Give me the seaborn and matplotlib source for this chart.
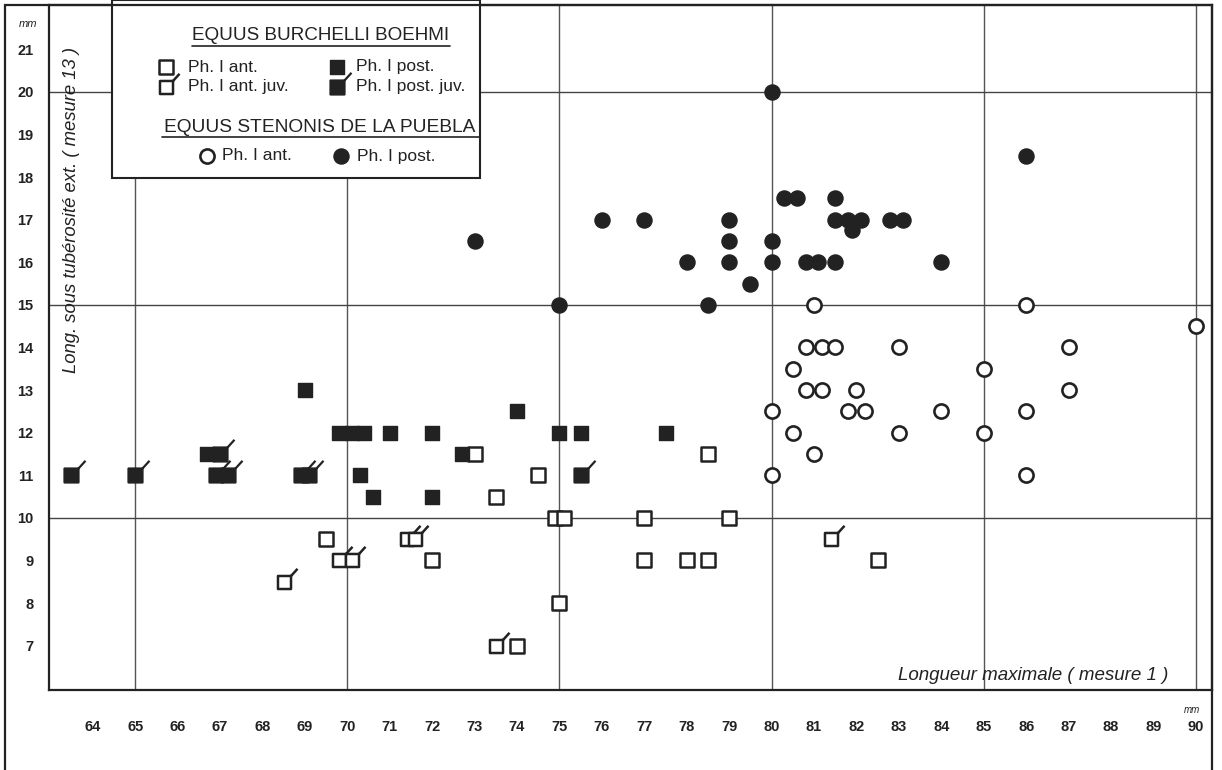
import matplotlib
matplotlib.use('Agg')
import matplotlib.pyplot as plt
from matplotlib.path import Path
from matplotlib.markers import MarkerStyle
from matplotlib.patches import Rectangle
import seaborn as sns

# Equus burchelli boehmi - Ph. I ant.
ant_x = [69.5, 72, 73, 74.5, 73.5, 74.9, 75.1, 77, 79, 77, 78, 78.5, 78.5, 75, 74, 82.5]
ant_y = [9.5, 9, 11.5, 11, 10.5, 10, 10, 10, 10, 9, 9, 9, 11.5, 8, 7, 9]
# Ph. I ant. juv.
ant_juv_x = [68.5, 69.8, 70.1, 71.4, 71.6, 73.5, 81.4]
ant_juv_y = [8.5, 9, 9, 9.5, 9.5, 7, 9.5]
# Ph. I post.
post_x = [66.7, 69, 69.8, 70.1, 70.4, 71, 70.3, 70.6, 72, 72, 72.7, 74, 75, 75.5, 77.5]
post_y = [11.5, 13, 12, 12, 12, 12, 11, 10.5, 12, 10.5, 11.5, 12.5, 12, 12, 12]
# Ph. I post. juv.
post_juv_x = [63.5, 65, 67, 66.9, 67.2, 68.9, 69.1, 75.5]
post_juv_y = [11, 11, 11.5, 11, 11, 11, 11, 11]

# Equus stenonis de la Puebla
sten_ant_x = [81, 86, 90, 80.8, 81.2, 81.5, 83, 87, 80.5, 85, 80.8, 81.2, 82, 87,
              80, 81.8, 82.2, 84, 86, 80.5, 83, 85, 81, 80, 86]
sten_ant_y = [15, 15, 14.5, 14, 14, 14, 14, 14, 13.5, 13.5, 13, 13, 13, 13,
              12.5, 12.5, 12.5, 12.5, 12.5, 12, 12, 12, 11.5, 11, 11]
sten_post_x = [73, 75, 76, 77, 78, 78.5, 79, 79, 79, 79.5, 80, 80, 80, 80.3, 80.6,
               81.5, 81.5, 81.8, 82.1, 81.9, 80.8, 81.1, 81.5, 82.8, 83.1, 84, 86]
sten_post_y = [16.5, 15, 17, 17, 16, 15, 17, 16.5, 16, 15.5, 20, 16.5, 16, 17.5, 17.5,
               17.5, 17, 17, 17, 16.75, 16, 16, 16, 17, 17, 16, 18.5]

x_ticks = list(range(64, 91))
y_ticks = list(range(7, 22))
grid_x = [65, 70, 75, 80, 85, 90]
grid_y = [10, 15, 20]

ink = '#222222'

sns.set_style('white')
plt.rcParams['font.family'] = ['Liberation Sans', 'DejaVu Sans']

# square with a small tick at the upper right corner (juvenile)
juv_path = Path([(-1, -1), (1, -1), (1, 1), (-1, 1), (-1, -1), (1, 1), (2, 2.1)],
                [Path.MOVETO, Path.LINETO, Path.LINETO, Path.LINETO, Path.CLOSEPOLY,
                 Path.MOVETO, Path.LINETO])
juv_marker = MarkerStyle(juv_path)

fig = plt.figure(figsize=(12.22, 7.70), dpi=100)
ax = fig.add_axes([49 / 1222, 80 / 770, 1163 / 1222, 685 / 770])

for gx in grid_x:
    ax.axvline(gx, color='#555555', lw=1.0, zorder=1)
for gy in grid_y:
    ax.axhline(gy, color='#444444', lw=1.0, zorder=1)

sq = 88
jv = sq * 2.1 ** 2
sns.scatterplot(x=ant_x, y=ant_y, marker='s', s=sq, color='white', edgecolor=ink,
                linewidth=1.8, ax=ax, zorder=3)
sns.scatterplot(x=ant_juv_x, y=ant_juv_y, marker=juv_marker, s=jv, color='white',
                edgecolor=ink, linewidth=1.8, ax=ax, zorder=3)
sns.scatterplot(x=post_x, y=post_y, marker='s', s=sq + 12, color=ink, edgecolor=ink,
                linewidth=1.0, ax=ax, zorder=3)
sns.scatterplot(x=post_juv_x, y=post_juv_y, marker=juv_marker, s=jv + 60, color=ink,
                edgecolor=ink, linewidth=1.6, ax=ax, zorder=3)
sns.scatterplot(x=sten_ant_x, y=sten_ant_y, marker='o', s=104, color='white',
                edgecolor=ink, linewidth=1.9, ax=ax, zorder=3)
sns.scatterplot(x=sten_post_x, y=sten_post_y, marker='o', s=118, color=ink,
                edgecolor=ink, linewidth=1.0, ax=ax, zorder=3)

ax.set_xlim(62.97, 90.38)
ax.set_ylim(5.96, 22.04)
ax.set_xticks(x_ticks)
ax.set_yticks(y_ticks)
ax.tick_params(axis='x', direction='out', length=6.5, width=1.5, pad=15,
               labelsize=10.5, colors=ink)
ax.tick_params(axis='y', direction='out', length=6, width=1.5, pad=5,
               labelsize=10.5, colors=ink)
for lab in ax.get_xticklabels() + ax.get_yticklabels():
    lab.set_fontweight('bold')
for sp in ax.spines.values():
    sp.set_linewidth(1.6)
    sp.set_color(ink)
ax.set_xlabel('')
ax.set_ylabel('')


def fx(px):
    return (px - 49) / 1163


def fy(py):
    return (690 - py) / 685


ax.text(fx(72), fy(210), 'Long. sous tubérosité ext. ( mesure 13 )', rotation=90,
        style='italic', fontsize=13.3, color=ink, ha='center', va='center',
        transform=ax.transAxes)
ax.text(fx(1168), fy(676), 'Longueur maximale ( mesure 1 )', style='italic',
        fontsize=13.5, color=ink, ha='right', va='center', transform=ax.transAxes)
fig.text(28 / 1222, 1 - 24 / 770, 'mm', style='italic', fontsize=8, color=ink,
         ha='center', va='center')
fig.text(1192 / 1222, 1 - 710 / 770, 'mm', style='italic', fontsize=7, color=ink,
         ha='center', va='center')

# legend box
ax.add_patch(Rectangle((fx(112), fy(178)), fx(480) - fx(112), fy(0) - fy(178),
                       transform=ax.transAxes, facecolor='white', edgecolor=ink,
                       lw=1.5, zorder=4, clip_on=False))
kw = dict(transform=ax.transAxes, color=ink, zorder=5, va='center')
ax.text(fx(321), fy(36), 'EQUUS BURCHELLI BOEHMI', fontsize=13.6, ha='center', **kw)
ax.plot([fx(192), fx(450)], [fy(46), fy(46)], transform=ax.transAxes, color=ink,
        lw=1.2, zorder=5, clip_on=False)
ax.text(fx(320), fy(127), 'EQUUS STENONIS DE LA PUEBLA', fontsize=13.8, ha='center', **kw)
ax.plot([fx(162), fx(479)], [fy(137), fy(137)], transform=ax.transAxes, color=ink,
        lw=1.2, zorder=5, clip_on=False)

lf = 12.5
ax.text(fx(188), fy(67), 'Ph. I ant.', fontsize=lf, ha='left', **kw)
ax.text(fx(356), fy(67), 'Ph. I post.', fontsize=lf, ha='left', **kw)
ax.text(fx(188), fy(86), 'Ph. I ant. juv.', fontsize=lf, ha='left', **kw)
ax.text(fx(356), fy(86), 'Ph. I post. juv.', fontsize=lf, ha='left', **kw)
ax.text(fx(222), fy(156), 'Ph. I ant.', fontsize=lf, ha='left', **kw)
ax.text(fx(357), fy(156), 'Ph. I post.', fontsize=lf, ha='left', **kw)

mk = dict(transform=ax.transAxes, zorder=5, clip_on=False)
ax.scatter([fx(166)], [fy(67)], marker='s', s=sq, facecolor='white', edgecolor=ink,
           linewidth=1.8, **mk)
ax.scatter([fx(337)], [fy(67)], marker='s', s=sq + 12, facecolor=ink, edgecolor=ink, **mk)
ax.scatter([fx(166)], [fy(87)], marker=juv_marker, s=jv, facecolor='white', edgecolor=ink,
           linewidth=1.8, **mk)
ax.scatter([fx(337)], [fy(87)], marker=juv_marker, s=jv + 60, facecolor=ink, edgecolor=ink,
           linewidth=1.6, **mk)
ax.scatter([fx(207)], [fy(156)], marker='o', s=104, facecolor='white', edgecolor=ink,
           linewidth=1.9, **mk)
ax.scatter([fx(341)], [fy(156)], marker='o', s=118, facecolor=ink, edgecolor=ink, **mk)

# outer frame of the figure
fig.add_artist(Rectangle((5 / 1222, -0.02), 1207 / 1222, 1.02 - 5 / 770, fill=False,
                         edgecolor=ink, lw=1.6, transform=fig.transFigure))

plt.savefig('out.png', dpi=100)
